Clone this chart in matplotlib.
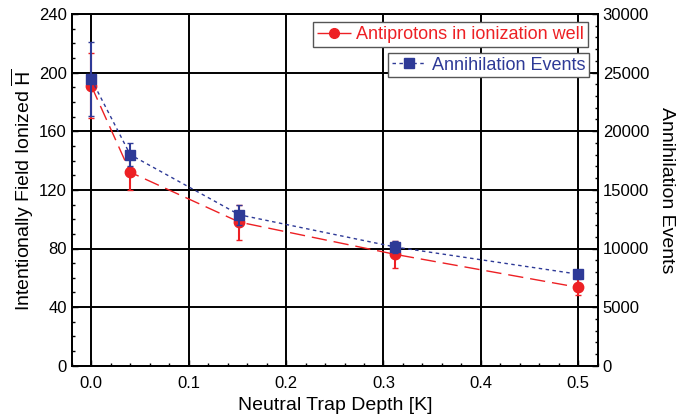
import numpy as np
import matplotlib.pyplot as plt
from matplotlib.ticker import MultipleLocator
from matplotlib.lines import Line2D

plt.rcParams['font.family'] = ['Liberation Sans', 'DejaVu Sans']

# Profondeur du piège neutre [K]
depth = [0.0, 0.04, 0.152, 0.312, 0.5]

# Antiprotons dans le puits d'ionisation (axe de gauche)
pbar = [191, 132, 98, 76, 53.5]
pbar_err = [22, 12, 12, 9, 5.5]

# Événements d'annihilation (axe de droite)
annih = [24440, 18000, 12875, 10125, 7810]
annih_err = [3125, 1000, 850, 500, 300]

red = '#ED2024'
blue = '#2E3A97'
red_ls = (0, (11, 5))
blue_ls = (0, (2.5, 2.5))

fig, ax = plt.subplots(figsize=(6.77, 4.2), dpi=100)
fig.subplots_adjust(left=0.106, right=0.883, top=0.967, bottom=0.129)
ax2 = ax.twinx()

ax.errorbar(depth, pbar, yerr=pbar_err, color=red, marker='o', markersize=7.5,
            linestyle=red_ls, linewidth=1, capsize=2.5, elinewidth=1.5, zorder=3)
ax2.errorbar(depth, annih, yerr=annih_err, color=blue, marker='s', markersize=7.5,
             linestyle=blue_ls, linewidth=1, capsize=2.5, elinewidth=1.5, zorder=3)

ax.set_xlim(-0.02, 0.52)
ax.set_ylim(0, 240)
ax2.set_ylim(0, 30000)

ax.xaxis.set_major_locator(MultipleLocator(0.1))
ax.xaxis.set_minor_locator(MultipleLocator(0.02))
ax.yaxis.set_major_locator(MultipleLocator(40))
ax.yaxis.set_minor_locator(MultipleLocator(10))
ax2.yaxis.set_major_locator(MultipleLocator(5000))
ax2.yaxis.set_minor_locator(MultipleLocator(1000))
ax.set_xticks(np.arange(0, 0.51, 0.1))
ax.set_xticklabels(['0.0', '0.1', '0.2', '0.3', '0.4', '0.5'])

ax.grid(True, which='major', color='black', linewidth=1.4)
ax.set_axisbelow(True)

for a in (ax, ax2):
    a.tick_params(which='both', direction='in', labelsize=12)
    a.tick_params(which='major', length=4, width=1)
    a.tick_params(which='minor', length=2.5, width=1)
    for s in a.spines.values():
        s.set_linewidth(1.3)
ax.tick_params(which='both', right=False, top=False)
ax.tick_params(axis='x', which='major', pad=7)

ax.set_xlabel('Neutral Trap Depth [K]', fontsize=14, labelpad=5)
ax.set_ylabel(r'Intentionally Field Ionized $\overline{\rm H}$', fontsize=14, labelpad=2)
ax2.set_ylabel('Annihilation Events', fontsize=14, rotation=270, labelpad=19)

h1 = Line2D([], [], color=red, marker='o', markersize=7, linestyle=red_ls, linewidth=1)
h2 = Line2D([], [], color=blue, marker='s', markersize=7, linestyle=blue_ls, linewidth=1)

leg1 = ax2.legend([h1], ['Antiprotons in ionization well'], loc='upper right',
                  bbox_to_anchor=(0.981, 0.976), fontsize=13, frameon=True,
                  fancybox=False, edgecolor='#555555', borderpad=0.2,
                  handlelength=1.9, handletextpad=0.3, borderaxespad=0)
for t in leg1.get_texts():
    t.set_color(red)
ax2.add_artist(leg1)
leg2 = ax2.legend([h2], ['Annihilation Events'], loc='upper right',
                  bbox_to_anchor=(0.983, 0.889), fontsize=13, frameon=True,
                  fancybox=False, edgecolor='#555555', borderpad=0.2,
                  handlelength=1.9, handletextpad=0.3, borderaxespad=0)
for t in leg2.get_texts():
    t.set_color(blue)
for lg in (leg1, leg2):
    lg.get_frame().set_linewidth(1)
    lg.get_frame().set_alpha(1)

fig.savefig('out.png', dpi=100)
